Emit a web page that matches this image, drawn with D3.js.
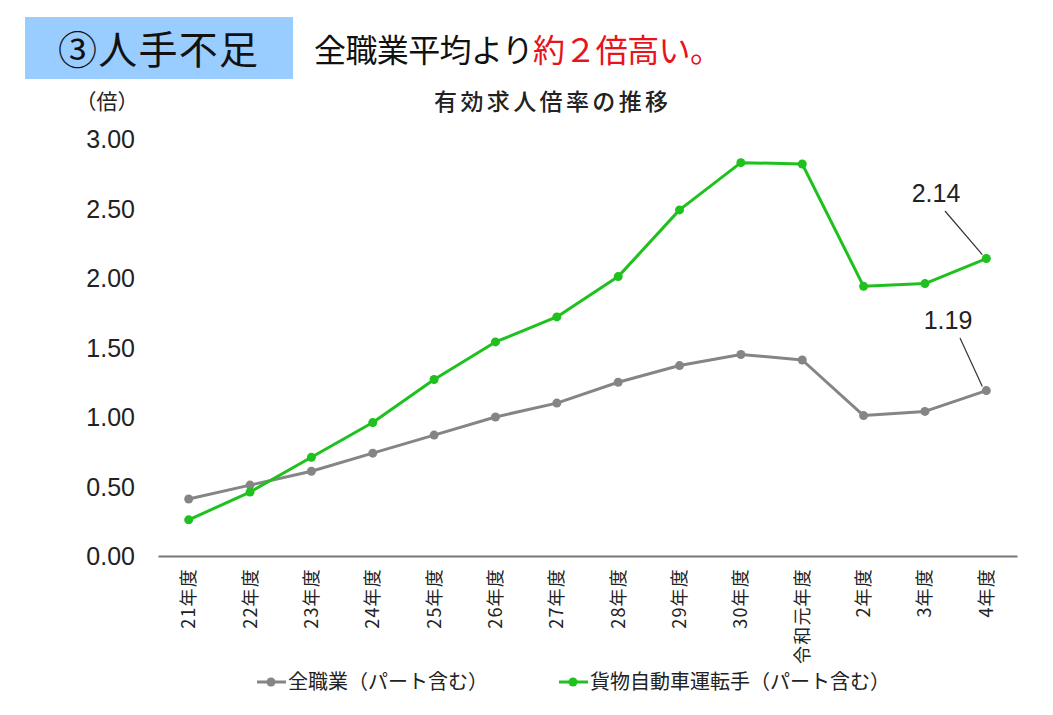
<!DOCTYPE html>
<html>
<head>
<meta charset="utf-8">
<script src="https://cdn.jsdelivr.net/npm/d3@7"></script>
<style>
  body { margin: 0; background: #fff; }
  svg { font-family: "Noto Sans CJK JP", "Noto Sans", sans-serif; }
</style>
</head>
<body>
<svg id="chart" width="1053" height="715"></svg>
<script>
// data
const years = ["21年度", "22年度", "23年度", "24年度", "25年度", "26年度", "27年度",
               "28年度", "29年度", "30年度", "令和元年度", "2年度", "3年度", "4年度"];
const allJobs = [0.41, 0.51, 0.61, 0.74, 0.87, 1.00, 1.10, 1.25, 1.37, 1.45, 1.41, 1.01, 1.04, 1.19];
const truckDrivers = [0.26, 0.46, 0.71, 0.96, 1.27, 1.54, 1.72, 2.01, 2.49, 2.83, 2.82, 1.94, 1.96, 2.14];
const yTicks = [0, 0.5, 1, 1.5, 2, 2.5, 3];
const seriesNames = ["全職業（パート含む）", "貨物自動車運転手（パート含む）"];

const grayCol = "#858585", greenCol = "#1ec11e";

let svg = d3.select("#chart");

// header
svg.append("rect").attr("x", 25).attr("y", 17).attr("width", 268).attr("height", 62)
  .attr("fill", "#99ccff");
svg.append("text").attr("x", 158).attr("y", 64).attr("text-anchor", "middle")
  .attr("font-size", 39).attr("fill", "#111").attr("textLength", 200).text("③人手不足");
let head = svg.append("text").attr("x", 314).attr("y", 62).attr("font-size", 32).attr("fill", "#111")
  .attr("textLength", 408);
head.append("tspan").text("全職業平均より");
head.append("tspan").attr("fill", "#e8141c").text("約２倍高い。");

// chart titles
svg.append("text").attr("x", 551).attr("y", 110).attr("text-anchor", "middle")
  .attr("font-size", 23).attr("font-weight", 500).attr("fill", "#222")
  .attr("textLength", 234).text("有効求人倍率の推移");
svg.append("text").attr("x", 107).attr("y", 109).attr("text-anchor", "middle")
  .attr("font-size", 21).attr("fill", "#222").text("（倍）");

// scales
let x = d3.scaleBand().domain(years).range([158, 1017]);
let y = d3.scaleLinear().domain([0, 3]).range([556, 139]);
let cx = d => x(d) + x.bandwidth() / 2;

// y tick labels (no axis line)
svg.append("g").selectAll("text").data(yTicks).join("text")
  .attr("x", 135).attr("y", d => y(d)).attr("dy", "0.36em")
  .attr("text-anchor", "end").attr("font-size", 25).attr("fill", "#222")
  .attr("font-family", "Liberation Sans, Arial, sans-serif")
  .text(d => d.toFixed(2));

// x axis
let xAxis = svg.append("g").attr("transform", "translate(0,556)")
  .call(d3.axisBottom(x).tickSize(0).tickPadding(0));
xAxis.select(".domain").attr("stroke", "#777").attr("stroke-width", 2);
xAxis.selectAll(".tick text")
  .attr("transform", "rotate(-90)")
  .attr("x", -12).attr("y", 0).attr("dy", "0.36em")
  .attr("text-anchor", "end").attr("font-size", 18).attr("fill", "#222")
  .attr("letter-spacing", 1.2)
  .attr("font-family", "Noto Sans CJK JP, sans-serif");

// lines
let line = d3.line().x((d, i) => cx(years[i])).y(d => y(d));
let series = [[allJobs, grayCol], [truckDrivers, greenCol]];
series.forEach(([vals, col]) => {
  svg.append("path").datum(vals).attr("d", line)
    .attr("fill", "none").attr("stroke", col).attr("stroke-width", 3).attr("stroke-linejoin", "round");
  svg.append("g").selectAll("circle").data(vals).join("circle")
    .attr("cx", (d, i) => cx(years[i])).attr("cy", d => y(d)).attr("r", 4.5).attr("fill", col);
});

// end-value callouts
let last = years.length - 1;
let callouts = [
  {v: truckDrivers[last], lx: 936, ly: 202, x1: 945, y1: 211},
  {v: allJobs[last], lx: 948, ly: 329, x1: 960, y1: 338}
];
callouts.forEach(c => {
  svg.append("line").attr("x1", c.x1).attr("y1", c.y1)
    .attr("x2", cx(years[last]) - 4).attr("y2", y(c.v) - 4)
    .attr("stroke", "#333").attr("stroke-width", 1.2);
  svg.append("text").attr("x", c.lx).attr("y", c.ly).attr("text-anchor", "middle")
    .attr("font-size", 25).attr("fill", "#222").attr("font-family", "Liberation Sans, Arial, sans-serif")
    .text(c.v.toFixed(2));
});

// legend
let legend = [[seriesNames[0], grayCol, 257], [seriesNames[1], greenCol, 559]];
legend.forEach(([name, col, lx]) => {
  svg.append("line").attr("x1", lx).attr("x2", lx + 29).attr("y1", 682).attr("y2", 682)
    .attr("stroke", col).attr("stroke-width", 3);
  svg.append("circle").attr("cx", lx + 14).attr("cy", 682).attr("r", 4.5).attr("fill", col);
  svg.append("text").attr("x", lx + 31).attr("y", 682).attr("dy", "0.36em")
    .attr("font-size", 20).attr("fill", "#222").text(name);
});
</script>
</body>
</html>
